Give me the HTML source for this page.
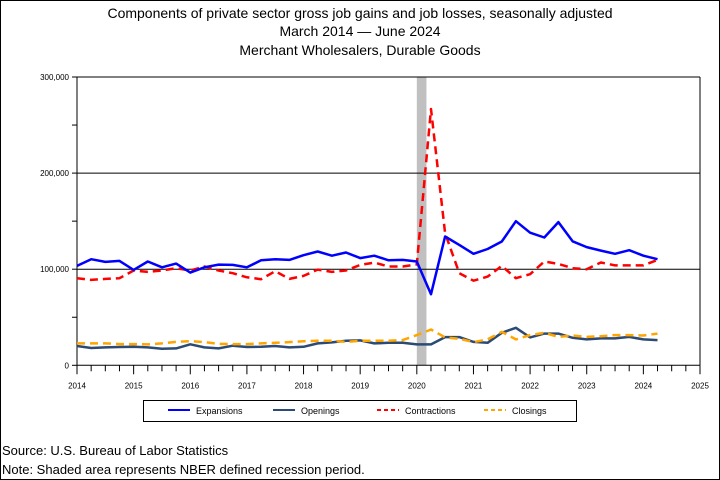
<!DOCTYPE html>
<html><head><meta charset="utf-8"><style>
html,body{margin:0;padding:0;background:#fff}
svg{display:block;font-family:"Liberation Sans",sans-serif}
</style></head><body>
<svg id="chart" width="720" height="480" viewBox="0 0 720 480" xmlns="http://www.w3.org/2000/svg">
<rect x="0.5" y="0.5" width="719" height="479" fill="#fff" stroke="#000"/>
<text x="360" y="18" font-size="14" text-anchor="middle">Components of private sector gross job gains and job losses, seasonally adjusted</text>
<text x="360" y="36" font-size="14" text-anchor="middle">March 2014  — June 2024</text>
<text x="360" y="55" font-size="14" text-anchor="middle">Merchant Wholesalers, Durable Goods</text>
<g id="plot"></g>
<rect x="143.5" y="400.5" width="433" height="21" fill="none" stroke="#000"/>
<g><line x1="168" y1="410" x2="190" y2="410" stroke="#0000ff" stroke-width="2"/><text x="196" y="414" font-size="9">Expansions</text></g>
<g><line x1="273" y1="410" x2="295" y2="410" stroke="#2b4a74" stroke-width="2"/><text x="301" y="414" font-size="9">Openings</text></g>
<g><line x1="377" y1="410" x2="399" y2="410" stroke="#ff0000" stroke-width="2" stroke-dasharray="4,3"/><text x="405" y="414" font-size="9">Contractions</text></g>
<g><line x1="484" y1="410" x2="506" y2="410" stroke="#ffa500" stroke-width="2" stroke-dasharray="4,3"/><text x="512" y="414" font-size="9">Closings</text></g>
<text x="2" y="455" font-size="13">Source: U.S. Bureau of Labor Statistics</text>
<text x="2" y="474" font-size="13">Note: Shaded area represents NBER defined recession period.</text>
</svg>
<script>
const startYear = 2014;
const yearTicks = [2014,2015,2016,2017,2018,2019,2020,2021,2022,2023,2024,2025];
const yTickValues = [0,100000,200000,300000];
const yTickLabels = ["0","100,000","200,000","300,000"];
const recession = [2020.0, 2020.17];
const expansions = [103.4,110.4,107.6,108.6,99.3,108,102,105.8,96.5,102,104.8,104.5,102,109.3,110.4,109.7,114.6,118.4,114,117.4,111.5,114,109.3,109.7,108,74,134,125.3,116,121,128.8,150,138,133,149,129,123,119.4,116,119.8,114,110.4];
const openings = [20.1,18,18.6,19,19.3,18.6,17.3,17.6,21.9,18.6,17.6,20.4,19,19.3,20.1,18.6,19.3,22.8,23.8,25.5,25.9,22.8,23.4,23.4,21.7,21.7,29.3,29.3,24.4,23.4,33.8,39,29,33,33,28.6,26.9,28,28,29.6,26.9,26.2];
const contractions = [90.6,88.9,89.9,90.6,98.6,97.2,98.6,101,98.6,102.8,98.6,95.8,91.6,89.6,97.9,89.9,93,99.6,97.2,98.6,104.5,106.9,102.8,102.8,105,266.7,137.5,95.8,88,92.3,103.4,90.6,94.8,108,105.5,101,100,107,104,104,104,109.7];
const closings = [22.8,22.8,22.8,22.1,22.1,21.7,22.8,24.4,25.1,24.1,22.4,22.1,22.1,22.8,23.4,24.1,25.1,25.5,25.5,24.4,25.5,25.5,25.5,26.2,31.4,37.3,29,27.6,24.1,26.9,34.9,26.9,31.4,33.8,29.6,31,29.6,30.3,31.4,31.4,31,33];

const X0=77,X1=700,Y0=365.3,Y1=77;
function xs(t){return X0+(t-2014)*(X1-X0)/11;}
function ys(v){return Y0-(v/300000)*(Y0-Y1);}
const NS="http://www.w3.org/2000/svg";
const g=document.getElementById('plot');
function mk(tag,attrs){const e=document.createElementNS(NS,tag);for(const k in attrs)e.setAttribute(k,attrs[k]);g.appendChild(e);return e;}

const rec=mk('rect',{x:xs(recession[0]),y:Y1,width:xs(recession[1])-xs(recession[0]),height:Y0-Y1,fill:'#c0c0c0'});



yTickValues.forEach((v,i)=>{
  if(v>0){const l=mk('line',{x1:X0,x2:X1,y1:ys(v),y2:ys(v),stroke:'#000','stroke-width':1});
  
  }
  const t=mk('text',{x:X0-8,y:ys(v)+3,'font-size':8,'text-anchor':'end'});
  t.textContent=yTickLabels[i];
  
  
});
for(let v=0;v<=300000;v+=50000){mk('line',{x1:X0-5,x2:X0,y1:ys(v),y2:ys(v),stroke:'#000'});}
mk('line',{x1:X0,x2:X0,y1:Y1,y2:Y0,stroke:'#000'});
mk('line',{x1:X1,x2:X1,y1:Y1,y2:Y0,stroke:'#000'});
const xa=mk('line',{x1:X0,x2:X1,y1:Y0,y2:Y0,stroke:'#000'});


for(let q=0;q<=44;q++){const t=2014+q/4;mk('line',{x1:xs(t),x2:xs(t),y1:Y0,y2:Y0+(q%4===0?9:6),stroke:'#000'});}
yearTicks.forEach(y=>{const t=mk('text',{x:xs(y),y:Y0+23,'font-size':8,'text-anchor':'middle'});t.textContent=y;
  
  });

function series(arr,color,dash,name,w){
  const pts=arr.map((v,i)=>xs(startYear+i/4).toFixed(1)+','+ys(v*1000).toFixed(1)).join(' ');
  const p=mk('polyline',{points:pts,fill:'none',stroke:color,'stroke-width':w,'stroke-linejoin':'round'});
  if(dash)p.setAttribute('stroke-dasharray',dash);
  
  
}
series(openings,'#2b4a74',null,'openings-line',2.5);
series(closings,'#ffa500','8,5','closings-line',2.5);
series(contractions,'#ff0000','8,5','contractions-line',2.5);
series(expansions,'#0000ff',null,'expansions-line',2.5);
</script>
</body></html>
